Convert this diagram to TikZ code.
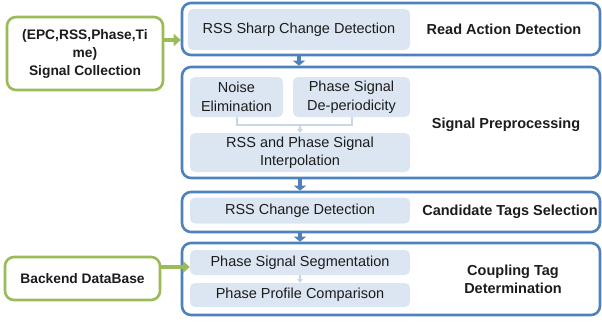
\documentclass[tikz,border=0pt]{standalone}
\usepackage{fontspec}
\setmainfont{Liberation Sans}
\usetikzlibrary{arrows.meta}

\definecolor{stageblue}{RGB}{79,129,189}
\definecolor{taskfill}{RGB}{220,230,242}
\definecolor{sourcegreen}{RGB}{155,187,89}
\definecolor{mergeline}{RGB}{200,214,232}
\definecolor{textgray}{RGB}{28,28,28}

\begin{document}
\begin{tikzpicture}[
    x=1pt, y=-1pt,
    every node/.style={text=textgray, inner sep=0pt},
    stage/.style={draw=stageblue, line width=2.6pt, rounded corners=9pt, minimum width=418pt},
    task/.style={fill=taskfill, rounded corners=5pt, align=center, font=\fontsize{14.5}{18.5}\selectfont},
    source/.style={draw=sourcegreen, line width=2.6pt, rounded corners=9pt, fill=white, align=center, font=\fontsize{13.8}{18}\selectfont\bfseries},
    title/.style={align=center, font=\fontsize{14.5}{18}\selectfont\bfseries},
    feed/.style={sourcegreen, line width=4.5pt, -{Triangle[length=7pt,width=12pt]}},
    flow/.style={stageblue, line width=4pt, -{Triangle[length=5pt,width=12pt]}},
    merge/.style={mergeline, line width=2pt}
]
\useasboundingbox (0,0) rectangle (602,325);

% Stage frames
\node[stage, minimum height=52pt] (s1) at (391, 29) {};
\node[stage, minimum height=111pt] (s2) at (391, 122.5) {};
\node[stage, minimum height=40pt] (s3) at (391, 212) {};
\node[stage, minimum height=72pt] (s4) at (391, 279) {};

% Steps inside each stage
\node[task, minimum width=222pt, minimum height=41pt] (sharp) at (299, 29.5) {RSS Sharp Change Detection};
\node[task, minimum width=93pt, minimum height=40pt] (noise) at (236.5, 97) {Noise\\Elimination};
\node[task, minimum width=117pt, minimum height=40pt] (phase) at (351.5, 97) {Phase Signal\\De-periodicity};
\node[task, minimum width=220pt, minimum height=39pt] (interp) at (300, 152.5) {RSS and Phase Signal\\Interpolation};
\node[task, minimum width=220pt, minimum height=26pt] (rsschg) at (300, 210.5) {RSS Change Detection};
\node[task, minimum width=220pt, minimum height=25pt] (seg) at (300, 262.5) {Phase Signal Segmentation};
\node[task, minimum width=220pt, minimum height=24pt] (cmp) at (300, 295) {Phase Profile Comparison};

% Stage titles
\node[title] (read) at (504, 29) {Read Action Detection};
\node[title] (prep) at (506, 125) {Signal Preprocessing};
\node[title] (cand) at (510, 212) {Candidate Tags Selection};
\node[title] (coup) at (513, 279) {Coupling Tag\\Determination};

% Inputs
\node[source, minimum width=156pt, minimum height=73pt] (collect) at (85, 53.5) {(EPC,RSS,Phase,Ti\\me)\\Signal Collection};
\node[source, minimum width=155pt, minimum height=43pt] (backend) at (82.5, 278.5) {Backend DataBase};

% Input arrows
\draw[feed] ([yshift=13.5pt]collect.east) -- ([yshift=13.5pt]collect.east -| s1.west);
\draw[feed] ([yshift=11.5pt]backend.east) -- ([yshift=11.5pt]backend.east -| seg.west);

% Stage to stage
\draw[flow] (sharp |- s1.south) -- (sharp |- s2.north);
\draw[flow] (interp |- s2.south) -- (interp |- s3.north);
\draw[flow] (rsschg |- s3.south) -- (rsschg |- s4.north);

% Inner links
\draw[merge] (noise.south) -- ++(0,8) coordinate (join) -| (phase.south);
\draw[merge, -{Triangle[length=4pt,width=6pt]}] (join -| interp.north) -- (interp.north);
\draw[merge, -{Triangle[length=4pt,width=6pt]}] (seg) -- (cmp);

\end{tikzpicture}
\end{document}
